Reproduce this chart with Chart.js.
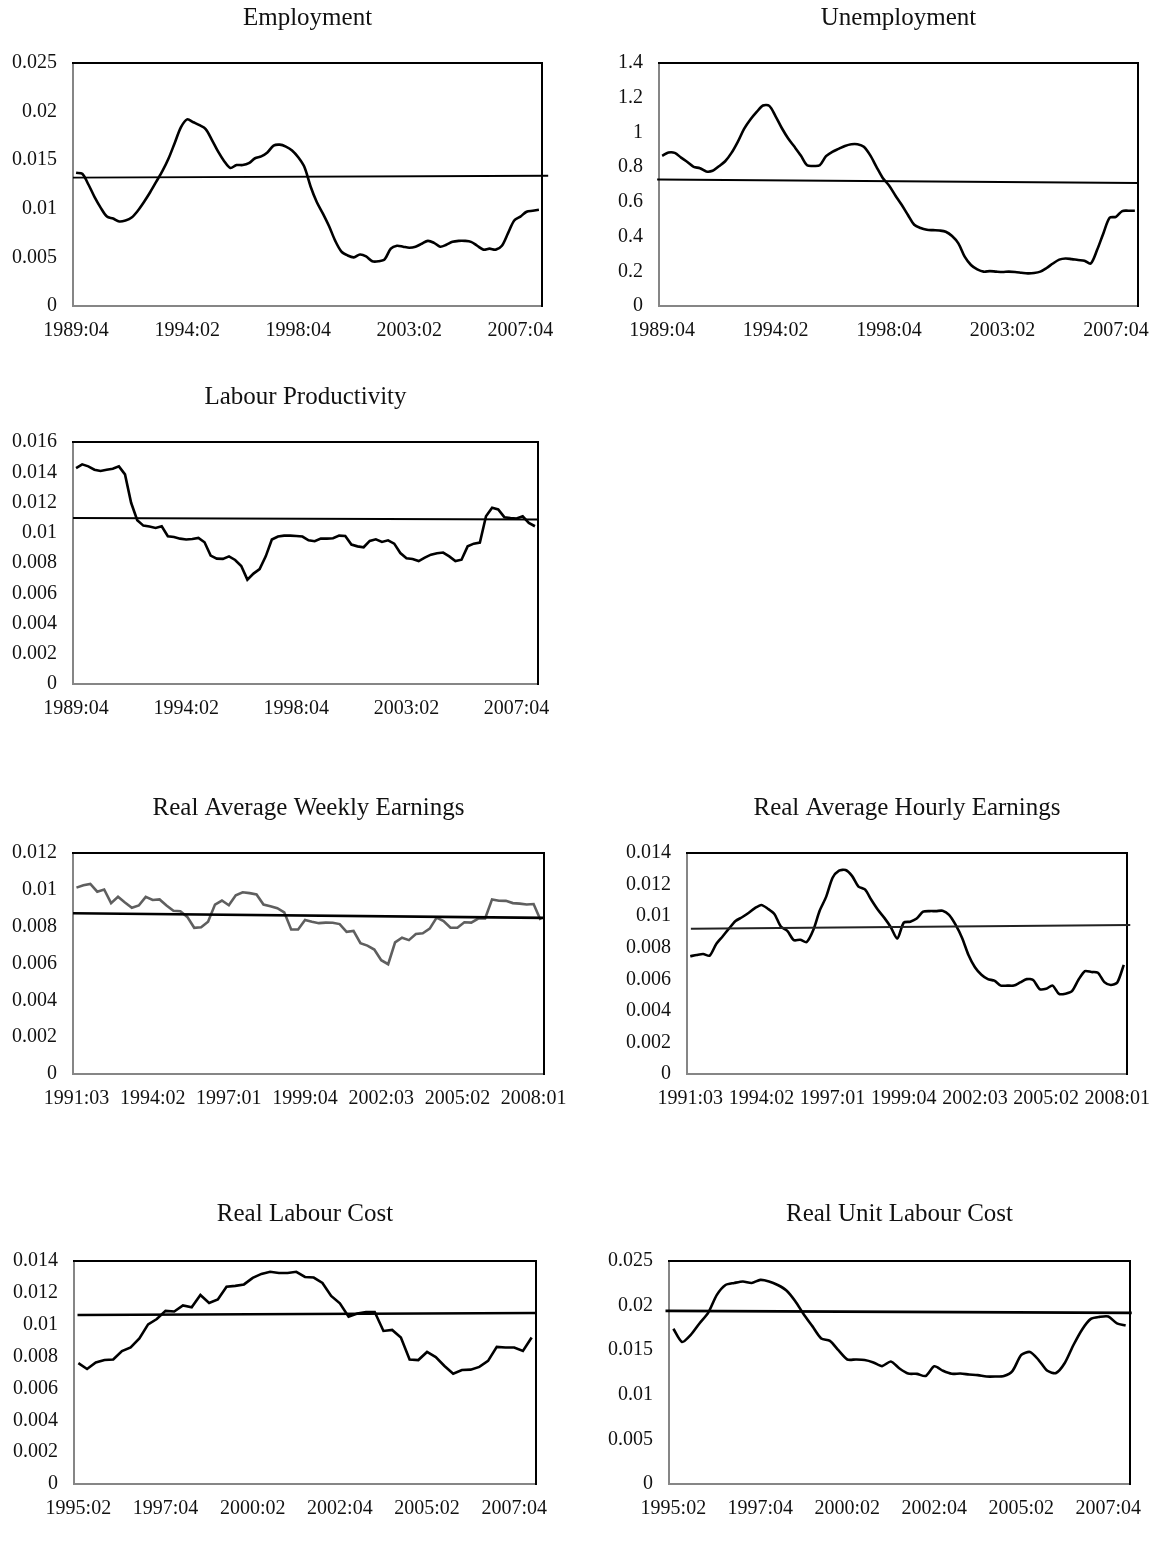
<!DOCTYPE html>
<html><head><meta charset="utf-8">
<script src="https://cdn.jsdelivr.net/npm/chart.js@4.4.0/dist/chart.umd.min.js"></script>
<style>
html,body{margin:0;padding:0;background:#fff;}
#wrap{position:relative;width:1162px;height:1546px;overflow:hidden;background:#fff;}
#wrap canvas{position:absolute;}
</style>
</head><body><div id="wrap"></div>
<script>
// ---------- categories ----------
function quarters(y, q, n){ const out=[]; for(let i=0;i<n;i++){ out.push(y+':'+String(q).padStart(2,'0')); q++; if(q>4){q=1;y++;} } return out; }
const cat8908 = quarters(1989,4,76);
const cat9108 = quarters(1991,3,68);
const cat9508 = quarters(1995,2,53);

// ---------- tick labels ----------
const ticks8908 = ['1989:04','1994:02','1998:04','2003:02','2007:04'];
const ticks9108 = ['1991:03','1994:02','1997:01','1999:04','2002:03','2005:02','2008:01'];
const ticks9508 = ['1995:02','1997:04','2000:02','2002:04','2005:02','2007:04'];

// ---------- series ----------
const employment = [0.0137,0.0136,0.0125,0.0112,0.0101,0.0092,0.0090,0.0087,0.0088,0.0091,
0.0098,0.0107,0.0117,0.0128,0.0139,0.0152,0.0168,0.0184,0.0192,0.0189,
0.0186,0.0182,0.0171,0.0159,0.0149,0.0142,0.0145,0.0145,0.0147,0.0152,
0.0154,0.0158,0.0165,0.0166,0.0164,0.0160,0.0153,0.0143,0.0123,0.0107,
0.0095,0.0082,0.0067,0.0056,0.0052,0.0050,0.0053,0.0051,0.0046,0.0046,
0.0048,0.0059,0.0062,0.0061,0.0060,0.0061,0.0064,0.0067,0.0065,0.0061,
0.0063,0.0066,0.0067,0.0067,0.0066,0.0062,0.0058,0.0059,0.0058,0.0062,
0.0075,0.0088,0.0092,0.0097,0.0098,0.0099];
const employmentTrend = [0.0132, 0.0134];
const employmentTrendAt = [-0.5, 76.5];

const unemployment = [0.865,0.884,0.882,0.855,0.830,0.802,0.794,0.775,0.779,0.805,
0.834,0.882,0.946,1.020,1.074,1.118,1.155,1.153,1.093,1.024,
0.965,0.917,0.867,0.811,0.807,0.811,0.863,0.888,0.905,0.922,
0.932,0.932,0.917,0.869,0.802,0.738,0.694,0.637,0.583,0.524,
0.468,0.449,0.439,0.437,0.435,0.428,0.403,0.361,0.284,0.236,
0.211,0.198,0.201,0.198,0.196,0.198,0.196,0.192,0.188,0.190,
0.198,0.219,0.245,0.267,0.274,0.270,0.265,0.261,0.245,0.322,
0.418,0.508,0.514,0.547,0.549,0.549];
const unemploymentTrend = [0.729, 0.708];
const unemploymentTrendAt = [-0.8, 75.5];

const productivity = [0.01428,0.01452,0.01439,0.01417,0.01408,0.01417,0.01423,0.01439,0.01386,0.01198,
0.01083,0.01047,0.01041,0.01032,0.01043,0.00977,0.00972,0.00961,0.00955,0.00959,
0.00966,0.00937,0.00849,0.00829,0.00827,0.00844,0.00820,0.00780,0.00690,0.00730,
0.00760,0.00844,0.00955,0.00975,0.00981,0.00981,0.00979,0.00975,0.00950,0.00944,
0.00961,0.00961,0.00964,0.00981,0.00979,0.00922,0.00910,0.00904,0.00946,0.00957,
0.00939,0.00950,0.00928,0.00866,0.00831,0.00827,0.00813,0.00835,0.00855,0.00864,
0.00869,0.00844,0.00813,0.00822,0.00910,0.00928,0.00935,0.01109,0.01165,0.01154,
0.01103,0.01098,0.01094,0.01109,0.01065,0.01043];
const productivityTrend = [0.01098, 0.01087];
const productivityTrendAt = [-0.5, 75.5];

const weeklyEarnings = [0.01012,0.01025,0.01032,0.00990,0.01002,0.00928,0.00962,0.00931,0.00903,0.00915,
0.00962,0.00945,0.00948,0.00915,0.00886,0.00884,0.00853,0.00794,0.00797,0.00827,
0.00920,0.00942,0.00916,0.00970,0.00987,0.00982,0.00975,0.00920,0.00911,0.00900,
0.00878,0.00785,0.00785,0.00836,0.00827,0.00819,0.00822,0.00821,0.00814,0.00772,
0.00777,0.00710,0.00697,0.00676,0.00618,0.00596,0.00715,0.00740,0.00727,0.00760,
0.00764,0.00789,0.00849,0.00831,0.00794,0.00794,0.00824,0.00822,0.00844,0.00844,
0.00948,0.00941,0.00940,0.00928,0.00925,0.00920,0.00923,0.00836];
const weeklyEarningsTrend = [0.00873, 0.00848];
const weeklyEarningsTrendAt = [-0.5, 67.5];

const hourlyEarnings = [0.00746,0.00754,0.00760,0.00750,0.00822,0.00871,0.00922,0.00969,0.00993,0.01020,
0.01051,0.01071,0.01047,0.01014,0.00934,0.00907,0.00848,0.00850,0.00836,0.00910,
0.01034,0.01122,0.01243,0.01288,0.01292,0.01255,0.01187,0.01169,0.01102,0.01040,
0.00989,0.00930,0.00858,0.00959,0.00965,0.00985,0.01028,0.01032,0.01032,0.01034,
0.01008,0.00946,0.00863,0.00754,0.00676,0.00629,0.00601,0.00591,0.00560,0.00560,
0.00560,0.00580,0.00601,0.00595,0.00538,0.00540,0.00560,0.00507,0.00509,0.00525,
0.00597,0.00652,0.00646,0.00642,0.00582,0.00564,0.00580,0.00691];
const hourlyEarningsTrend = [0.00920, 0.00944];
const hourlyEarningsTrendAt = [0.1, 68.0];

const labourCost = [0.00759,0.00722,0.00763,0.00778,0.00782,0.00835,0.00857,0.00914,0.01002,0.01036,
0.01087,0.01083,0.01121,0.01110,0.01187,0.01136,0.01159,0.01238,0.01244,0.01253,
0.01294,0.01319,0.01332,0.01325,0.01325,0.01332,0.01300,0.01296,0.01262,0.01181,
0.01134,0.01050,0.01070,0.01080,0.01080,0.00961,0.00967,0.00920,0.00782,0.00778,
0.00829,0.00797,0.00741,0.00692,0.00716,0.00718,0.00735,0.00773,0.00861,0.00857,
0.00857,0.00835,0.00920];
const labourCostTrend = [0.01061, 0.01074];
const labourCostTrendAt = [-0.1, 52.5];

const unitLabourCost = [0.01740,0.01592,0.01672,0.01800,0.01918,0.02120,0.02231,0.02254,0.02271,0.02254,
0.02288,0.02271,0.02231,0.02170,0.02052,0.01901,0.01767,0.01632,0.01605,0.01497,
0.01396,0.01396,0.01390,0.01363,0.01322,0.01373,0.01295,0.01238,0.01235,0.01211,
0.01319,0.01269,0.01235,0.01238,0.01228,0.01221,0.01205,0.01205,0.01211,0.01269,
0.01447,0.01480,0.01390,0.01269,0.01245,0.01356,0.01558,0.01733,0.01851,0.01874,
0.01878,0.01800,0.01777];
const unitLabourCostTrend = [0.01941, 0.01918];
const unitLabourCostTrendAt = [-0.9, 52.7];

// ---------- drawing ----------
const FONT = "'Liberation Serif','DejaVu Serif',serif";
Chart.defaults.font.family = FONT;

const framePlugin = {
  id: 'frame',
  beforeDatasetsDraw(chart) {
    const {ctx, chartArea: a} = chart;
    ctx.save();
    ctx.lineWidth = 2;
    ctx.lineCap = 'square';
    ctx.strokeStyle = '#868686';
    ctx.beginPath(); ctx.moveTo(a.left, a.top); ctx.lineTo(a.left, a.bottom); ctx.lineTo(a.right, a.bottom); ctx.stroke();
    ctx.strokeStyle = '#000';
    ctx.beginPath(); ctx.moveTo(a.left, a.top); ctx.lineTo(a.right, a.top); ctx.lineTo(a.right, a.bottom); ctx.stroke();
    ctx.restore();
  },
  afterDraw(chart, args, opts) {
    const {ctx, chartArea: a} = chart;
    ctx.save();
    ctx.fillStyle = '#111';
    ctx.font = '25px ' + FONT;
    ctx.textAlign = 'center';
    ctx.textBaseline = 'middle';
    ctx.fillText(opts.title, (a.left + a.right) / 2, a.top - opts.titleGap);
    ctx.restore();
  }
};

function fmt(v){ return String(+(+v).toFixed(4)); }

function makeChart(spec) {
  const {box, title, titleGap, cats, tickLabels, values, trend, trendAt, yMax, yStep, color, lineW, trendW, trendColor, tension} = spec;
  const padL = 100, padT = 80, padR = 60, padB = 60;
  const W = (box.R - box.L) + padL + padR;
  const H = (box.B - box.T) + padT + padB;
  const cv = document.createElement('canvas');
  cv.width = W; cv.height = H;
  cv.style.left = (box.L - padL) + 'px';
  cv.style.top = (box.T - padT) + 'px';
  cv.style.width = W + 'px'; cv.style.height = H + 'px';
  document.getElementById('wrap').appendChild(cv);
  const n = cats.length;
  const tickIdx = tickLabels.map(t => cats.indexOf(t));
  new Chart(cv, {
    type: 'line',
    data: {
      datasets: [
        { data: values.map((v, i) => ({x: i, y: v})), borderColor: color, borderWidth: lineW,
          pointRadius: 0, tension: tension, fill: false, order: 1 },
        { data: trend.map((v, i) => ({x: trendAt[i], y: v})), borderColor: trendColor, borderWidth: trendW,
          pointRadius: 0, tension: 0, fill: false, clip: false, order: 0 }
      ]
    },
    options: {
      responsive: false, animation: false, devicePixelRatio: 1,
      layout: { padding: { left: 0, top: padT, right: padR, bottom: 0 } },
      plugins: { legend: { display: false }, tooltip: { enabled: false },
                 frame: { title: title, titleGap: titleGap } },
      scales: {
        x: {
          type: 'linear', min: -0.5, max: n - 0.5,
          grid: { display: false, drawTicks: false }, border: { display: false },
          afterBuildTicks: (s) => { s.ticks = tickIdx.map(v => ({ value: v })); },
          afterFit: (s) => { s.height = padB; },
          ticks: { autoSkip: false, maxRotation: 0, minRotation: 0, padding: 13,
                   color: '#111', font: { size: 20 },
                   callback: (v) => cats[Math.round(v)] }
        },
        y: {
          min: 0, max: yMax,
          grid: { display: false, drawTicks: false }, border: { display: false },
          afterFit: (s) => { s.width = padL; },
          ticks: { stepSize: yStep, padding: 16, color: '#111', font: { size: 20 },
                   callback: (v) => fmt(v) }
        }
      }
    },
    plugins: [framePlugin]
  });
}

const BLACK = '#000';
makeChart({ box:{L:73,R:542,T:63,B:306}, title:'Employment', titleGap:45, cats:cat8908, tickLabels:ticks8908,
  values:employment, trend:employmentTrend, trendAt:employmentTrendAt, yMax:0.025, yStep:0.005,
  color:BLACK, lineW:2.6, trendW:1.8, trendColor:BLACK, tension:0.3 });
makeChart({ box:{L:659,R:1138,T:63,B:306}, title:'Unemployment', titleGap:45, cats:cat8908, tickLabels:ticks8908,
  values:unemployment, trend:unemploymentTrend, trendAt:unemploymentTrendAt, yMax:1.4, yStep:0.2,
  color:BLACK, lineW:2.6, trendW:2, trendColor:BLACK, tension:0.3 });
makeChart({ box:{L:73,R:538,T:442,B:684}, title:'Labour Productivity', titleGap:45, cats:cat8908, tickLabels:ticks8908,
  values:productivity, trend:productivityTrend, trendAt:productivityTrendAt, yMax:0.016, yStep:0.002,
  color:BLACK, lineW:2.6, trendW:2, trendColor:BLACK, tension:0 });
makeChart({ box:{L:73,R:544,T:853,B:1074}, title:'Real Average Weekly Earnings', titleGap:45, cats:cat9108, tickLabels:ticks9108,
  values:weeklyEarnings, trend:weeklyEarningsTrend, trendAt:weeklyEarningsTrendAt, yMax:0.012, yStep:0.002,
  color:'#5f5f5f', lineW:2.6, trendW:2.6, trendColor:BLACK, tension:0 });
makeChart({ box:{L:687,R:1127,T:853,B:1074}, title:'Real Average Hourly Earnings', titleGap:45, cats:cat9108, tickLabels:ticks9108,
  values:hourlyEarnings, trend:hourlyEarningsTrend, trendAt:hourlyEarningsTrendAt, yMax:0.014, yStep:0.002,
  color:BLACK, lineW:2.6, trendW:1.8, trendColor:'#222', tension:0.25 });
makeChart({ box:{L:74,R:536,T:1261,B:1484}, title:'Real Labour Cost', titleGap:47, cats:cat9508, tickLabels:ticks9508,
  values:labourCost, trend:labourCostTrend, trendAt:labourCostTrendAt, yMax:0.014, yStep:0.002,
  color:BLACK, lineW:2.6, trendW:2.6, trendColor:BLACK, tension:0 });
makeChart({ box:{L:669,R:1130,T:1261,B:1484}, title:'Real Unit Labour Cost', titleGap:47, cats:cat9508, tickLabels:ticks9508,
  values:unitLabourCost, trend:unitLabourCostTrend, trendAt:unitLabourCostTrendAt, yMax:0.025, yStep:0.005,
  color:BLACK, lineW:2.6, trendW:2.6, trendColor:BLACK, tension:0.25 });
</script>
</body></html>
